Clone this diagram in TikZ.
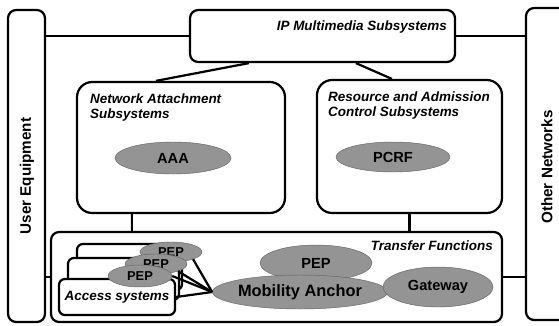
\documentclass[tikz,border=0pt]{standalone}
\usepackage{fontspec}
\setmainfont{Liberation Sans}
\usetikzlibrary{positioning, calc, shapes.geometric}

\begin{document}
\begin{tikzpicture}[
                x=0.03cm, y=-0.03cm,
                box/.style={draw, line width=1.9pt, rounded corners=7pt, fill=white, inner sep=0pt},
                bigbox/.style={box, rounded corners=13pt},
                accbox/.style={box, rounded corners=5pt},
                blob/.style={ellipse, fill=black!42, draw=black!60, inner sep=0pt, font=\bfseries\fontsize{12.5}{14}\selectfont},
                smallblob/.style={blob, font=\bfseries\fontsize{11}{12}\selectfont},
                lbl/.style={font=\bfseries\itshape\fontsize{11.5}{13.5}\selectfont, align=left, inner sep=0pt},
                side/.style={font=\bfseries\fontsize{13}{15}\selectfont, rotate=90, inner sep=0pt},
                link/.style={line width=1.9pt},
            ]
                \useasboundingbox (0,0) rectangle (559,325);

                % Side boxes
                \node[box, minimum width=1.11cm, minimum height=9.36cm] (ue) at (26.5,166) {};
                \node[side] (uelbl) at (27,176) {User Equipment};
                \node[box, minimum width=1.26cm, minimum height=9.36cm] (on) at (547,164) {};
                \node[side] (onlbl) at (547,167) {Other Networks};

                % IMS on top
                \node[box, minimum width=7.95cm, minimum height=1.56cm] (ims) at (322.5,36) {};
                \node[lbl, anchor=east] (imslbl) at (447,27) {IP Multimedia Subsystems};

                % Control subsystems
                \node[bigbox, minimum width=6.24cm, minimum height=3.93cm] (na) at (181,147.5) {};
                \node[lbl, anchor=north west] (nalbl) at (90,93) {Network Attachment\\Subsystems};
                \node[blob, minimum width=3.48cm, minimum height=0.96cm] (aaa) at (173,158) {AAA};

                \node[bigbox, minimum width=5.55cm, minimum height=3.99cm] (racs) at (409.5,146.5) {};
                \node[lbl, anchor=north west] (racslbl) at (328,91) {Resource and Admission\\Control Subsystems};
                \node[blob, minimum width=3.42cm, minimum height=0.9cm] (pcrf) at (393,157) {PCRF};

                % Transfer functions
                \node[box, minimum width=13.53cm, minimum height=2.7cm] (tf) at (276.5,277) {};
                \node[lbl, anchor=east] (tflbl) at (493,246) {Transfer Functions};

                % Access systems stack
                \node[accbox, minimum width=3.15cm, minimum height=1.38cm] (acc3) at (129.5,267) {};
                \node[accbox, minimum width=3.33cm, minimum height=1.26cm] (acc2) at (123.5,279) {};
                \node[accbox, lbl, minimum width=3.48cm, minimum height=1.08cm, align=center] (acc1) at (117,297) {\raisebox{-2pt}{Access systems}};
                \node[smallblob, minimum width=1.86cm, minimum height=0.6cm] (pep3) at (171,252) {PEP};
                \node[smallblob, minimum width=1.86cm, minimum height=0.6cm] (pep2) at (156,264) {PEP};
                \node[smallblob, minimum width=1.92cm, minimum height=0.66cm] (pep1) at (140,276) {PEP};

                % Core elements
                \node[blob, minimum width=3.36cm, minimum height=1.08cm] (pep) at (316,263) {PEP};
                \node[blob, minimum width=4.56cm, minimum height=1.02cm, font=\bfseries\fontsize{14}{16}\selectfont] (ma) at (300,292) {Mobility Anchor};
                \node[blob, minimum width=3.3cm, minimum height=1.2cm] (gw) at (438,287) {Gateway};

                % Connections
                \draw[link] (ims.west) -- (ims.west -| ue.east);
                \draw[link] (ims.east) -- (ims.east -| on.west);
                \draw[link] ($(ims.south west)+(60,0)$) -- ($(na.north west)+(80,0)$);
                \draw[link] ($(ims.south west)+(167,0)$) -- ($(racs.north west)+(76,0)$);
                \draw[link] ($(na.south west)+(56,0)$) -- ($(tf.north west)+(82,0)$);
                \draw[link] (racs.south) -- (racs.south |- tf.north);
                \draw[link] (tf.west) -- (tf.west -| ue.east);
                \draw[link] (tf.east) -- (tf.east -| on.west);
                \foreach \src in {pep3.south east, pep2.south east, pep1.east, acc1.east}
                    \draw[link] (\src) -- (ma.west);
            \end{tikzpicture}
\end{document}
